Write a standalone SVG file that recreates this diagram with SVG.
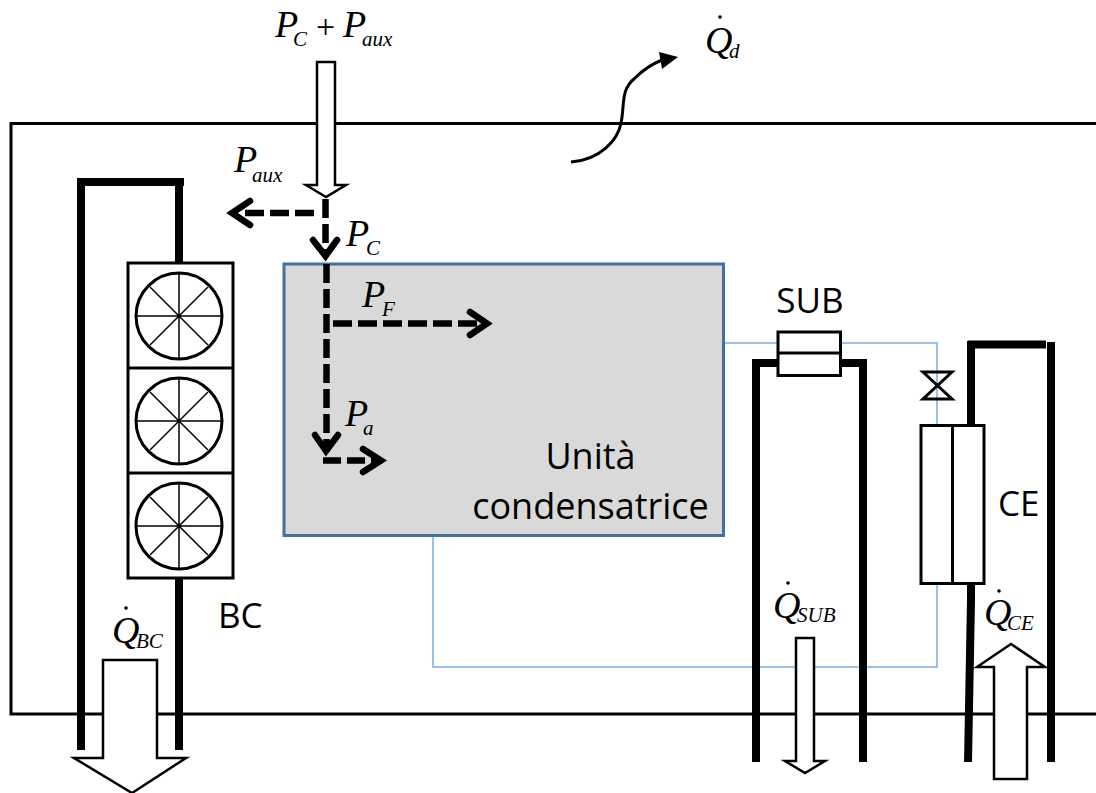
<svg xmlns="http://www.w3.org/2000/svg" width="1096" height="793" viewBox="0 0 1096 793">
<defs>
<g id="fan"><ellipse cx="0" cy="0" rx="43" ry="43" fill="#fff" stroke="#000" stroke-width="3"/><path d="M0-43V43M-43 0H43M-29-29L29 29M-29 29L29-29" fill="none" stroke="#000" stroke-width="1.500"/></g>
</defs>
<style>
.th{fill:none;stroke:#000;stroke-width:8}
.pipe{fill:none;stroke:#78aede;stroke-width:1.500}
.block{fill:#fff;stroke:#000;stroke-width:3}
.ar{fill:#fff;stroke:#000;stroke-width:2.500;stroke-linejoin:miter}
.da{fill:none;stroke:#000;stroke-width:6.500;stroke-dasharray:19 6}
.hd{fill:none;stroke:#000;stroke-width:6.500;stroke-linecap:round;stroke-linejoin:miter;stroke-miterlimit:10}
.lb{font-family:"Open Sans","Noto Sans",sans-serif;font-size:35px;fill:#000}
.big{font-size:36px}
.m{font-family:"Liberation Serif",serif;font-style:italic;font-size:38px;fill:#000}
.s{font-size:21px}
.u{font-style:normal;font-size:34px}
</style>
<g id="connectors">
<rect id="boundary" x="11" y="123.500" width="1100" height="590.500" fill="none" stroke="#000" stroke-width="3"/>
<path class="pipe" d="M723 343H937V667H433V535"/>
<path class="th" d="M179 750V182H81V750M175 182H184"/>
<path class="th" d="M756 762V363H863V762"/>
<path class="th" d="M968 344.500H1046"/>
<path class="th" d="M971 341V600L968 762"/>
<path class="th" d="M1051 342V762"/>
<path d="M571 162C600 160 618 140 621 123C625 105 620 90 635 78C643 70 652 64 662 60" fill="none" stroke="#000" stroke-width="3"/>
<path d="M678 57L659 52L662 69Z" fill="#000"/>
</g>
<g id="unit"><rect x="284" y="264" width="439.500" height="271.500" fill="#d9d9d9" stroke="#41719c" stroke-width="3"/><text class="lb big" x="590.500" y="469" text-anchor="middle">Unità</text><text class="lb big" x="590.500" y="519" text-anchor="middle">condensatrice</text></g>
<g id="fans"><rect class="block" x="128" y="263" width="105" height="315"/><path d="M128 368H233M128 473H233" stroke="#000" stroke-width="3"/><use href="#fan" x="179" y="316"/><use href="#fan" x="179" y="421"/><use href="#fan" x="179" y="526"/></g>
<g id="sub"><rect class="block" x="778" y="332" width="62.500" height="43.500"/><path d="M778 353H840" stroke="#000" stroke-width="3"/></g>
<g id="ce"><rect class="block" x="921" y="425.500" width="63" height="158"/><path d="M952.500 425.500V583.500" stroke="#000" stroke-width="3"/></g>
<g id="valve"><path d="M923 372H952L923 399H952Z" fill="none" stroke="#000" stroke-width="3"/></g>
<g id="flows">
<path class="ar" d="M317 62H335V185H346L326 197L306 185H317Z"/>
<path class="ar" d="M103 660H157V758H186L132 793L74 758H103Z"/>
<path class="ar" d="M796 638H814V761H825L805 773L785 761H796Z"/>
<path class="ar" d="M994 779H1027V667H1045L1011 644L977 667H994Z"/>
<path class="da" d="M325.500 199V255"/>
<path class="hd" d="M313 240L325.500 256L337 240"/>
<path class="da" d="M314 213H240"/>
<path class="hd" d="M250 201L232 213L250 225"/>
<path class="da" d="M326.500 264V452"/>
<path class="da" d="M333 323.500H482"/>
<path class="hd" d="M470 312L487 323.500L470 335"/>
<path class="hd" d="M315 435L326 451L338 435"/>
<path class="da" d="M323 460.500H376" style="stroke-dasharray:18 6"/>
<path class="hd" d="M363 449L381 460.500L363 472"/>
</g>
<g id="labels">
<text class="lb" x="810" y="313" text-anchor="middle">SUB</text>
<text class="lb" x="998" y="516">CE</text>
<text class="lb" x="218" y="628">BC</text>
</g>
<g id="math">
<text id="m-pcaux" class="m"><tspan x="275" y="37">P</tspan><tspan class="s" x="293" y="46">C</tspan><tspan class="u" x="316" y="38">+</tspan><tspan x="343" y="37">P</tspan><tspan class="s" x="362" y="46">aux</tspan></text>
<text id="m-paux" class="m"><tspan x="234" y="172">P</tspan><tspan class="s" x="252" y="181.500">aux</tspan></text>
<text id="m-pc" class="m"><tspan x="346" y="246">P</tspan><tspan class="s" x="366" y="255">C</tspan></text>
<text id="m-pf" class="m"><tspan x="362" y="307">P</tspan><tspan class="s" x="382" y="316">F</tspan></text>
<text id="m-pa" class="m"><tspan x="345" y="426">P</tspan><tspan class="s" x="363" y="435">a</tspan></text>
<g id="m-qd"><text class="m"><tspan x="705" y="53">Q</tspan><tspan class="s" x="729" y="58">d</tspan></text><circle cx="720" cy="17" r="1.800"/></g>
<g id="m-qbc"><text class="m"><tspan x="112" y="643">Q</tspan><tspan class="s" x="136" y="648">BC</tspan></text><circle cx="126" cy="608" r="1.800"/></g>
<g id="m-qsub"><text class="m"><tspan x="773" y="618">Q</tspan><tspan class="s" x="797" y="622">SUB</tspan></text><circle cx="788" cy="583" r="1.800"/></g>
<g id="m-qce"><text class="m"><tspan x="984" y="625">Q</tspan><tspan class="s" x="1007" y="630">CE</tspan></text><circle cx="999" cy="591" r="1.800"/></g>
</g>
</svg>
